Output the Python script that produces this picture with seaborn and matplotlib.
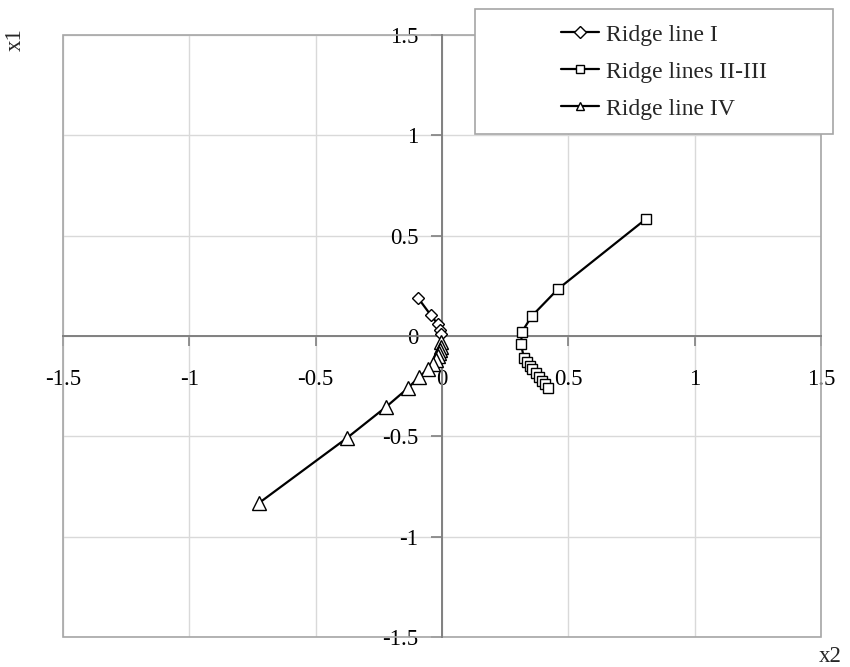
import numpy as np
import pandas as pd
import matplotlib
matplotlib.use("Agg")
import matplotlib.pyplot as plt
from matplotlib.patches import Rectangle
import seaborn as sns

# ---- data ----
ridge1_x = [-0.095, -0.045, -0.017, -0.006, -0.002]
ridge1_y = [0.19, 0.105, 0.06, 0.03, 0.012]

ridge23_x = [0.807, 0.459, 0.356, 0.316, 0.313, 0.324, 0.335, 0.347, 0.358, 0.371,
             0.383, 0.394, 0.407, 0.420]
ridge23_y = [0.583, 0.234, 0.10, 0.02, -0.04, -0.11, -0.13, -0.148, -0.165, -0.185,
             -0.203, -0.222, -0.24, -0.26]

ridge4_x = [-0.004, -0.004, -0.008, -0.012, -0.016, -0.024, -0.036, -0.055, -0.091,
            -0.135, -0.222, -0.376, -0.724]
ridge4_y = [-0.03, -0.055, -0.07, -0.085, -0.10, -0.12, -0.14, -0.165, -0.204,
            -0.26, -0.354, -0.508, -0.832]

labels = ["Ridge line I", "Ridge lines II-III", "Ridge line IV"]
ticks = [-1.5, -1, -0.5, 0, 0.5, 1, 1.5]
tick_labels = ["-1.5", "-1", "-0.5", "0", "0.5", "1", "1.5"]

sns.set_style("white")
plt.rcParams["font.family"] = ["Liberation Serif", "DejaVu Serif"]
plt.rcParams["axes.unicode_minus"] = False

fig = plt.figure(figsize=(8.5, 6.67), dpi=100)
ax = fig.add_axes([63 / 850, 1 - 637 / 667, (821 - 63) / 850, (637 - 35) / 667])

series = [
    (ridge1_x, ridge1_y, "D", 6.5),
    (ridge23_x, ridge23_y, "s", 7.5),
    (ridge4_x, ridge4_y, "^", 9.5),
]
handles = []
for (xs, ys, mk, ms), lab in zip(series, labels):
    df = pd.DataFrame({"x": xs, "y": ys})
    sns.lineplot(data=df, x="x", y="y", sort=False, estimator=None, ax=ax,
                 color="black", linewidth=1.6, marker=mk, markersize=ms,
                 markerfacecolor="white", markeredgecolor="black",
                 markeredgewidth=1.0, label=lab, zorder=3)
    handles.append(ax.lines[-1])

ax.get_legend().remove()

ax.set_xlim(-1.5, 1.5)
ax.set_ylim(-1.5, 1.5)
ax.set_xticks(ticks)
ax.set_yticks(ticks)
ax.set_xticklabels(tick_labels)
ax.set_yticklabels(tick_labels)
ax.set_xlabel("")
ax.set_ylabel("")

ax.grid(True, color="#d9d9d9", linewidth=1.0, zorder=0)
ax.set_axisbelow(True)

for s in ["top", "right"]:
    ax.spines[s].set_visible(False)
ax.spines["left"].set_position(("data", 0))
ax.spines["bottom"].set_position(("data", 0))
for s in ["left", "bottom"]:
    ax.spines[s].set_color("#808080")
    ax.spines[s].set_linewidth(1.4)

ax.tick_params(axis="x", direction="out", length=7, width=1.2, color="#808080",
               labelsize=16.5, pad=17, labelcolor="black")
ax.tick_params(axis="y", direction="out", length=8, width=1.2, color="#808080",
               labelsize=16.5, pad=9, labelcolor="black")
ax.tick_params(axis="x", bottom=True)
ax.tick_params(axis="y", left=True)

# plot area border
ax.add_patch(Rectangle((0, 0), 1, 1, transform=ax.transAxes, fill=False,
                       edgecolor="#a6a6a6", linewidth=1.2, clip_on=False, zorder=1))

# axis titles
fig.text(15 / 850, 1 - 40 / 667, "x1", rotation=90, ha="center", va="center", fontsize=16.5)
fig.text(830 / 850, 1 - 657 / 667, "x2", ha="center", va="center", fontsize=16.5)

# legend box + legend
fig.patches.append(Rectangle((475 / 850, 1 - 134 / 667), 358 / 850, 125 / 667,
                             transform=fig.transFigure, facecolor="white",
                             edgecolor="#a6a6a6", linewidth=1.2, zorder=3, figure=fig))
leg = fig.legend(handles=handles, labels=labels, loc="upper left",
                 bbox_to_anchor=(561 / 850, 1 - 24 / 667), frameon=False,
                 fontsize=17, handlelength=1.6, handletextpad=0.3,
                 labelspacing=0.66, borderpad=0, borderaxespad=0)
leg.set_zorder(5)
for h in leg.legend_handles:
    h.set_markersize(6)

fig.savefig("out.png", dpi=100)
